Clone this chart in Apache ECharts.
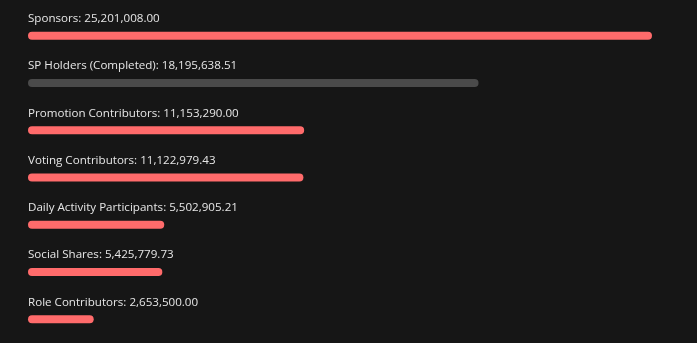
<!DOCTYPE html>
<html>
<head>
<meta charset="utf-8">
<script src="https://cdn.jsdelivr.net/npm/echarts@6/dist/echarts.min.js"></script>
<style>
  html, body { margin: 0; padding: 0; background: #161616; }
  #chart { width: 697px; height: 343px; }
</style>
</head>
<body>
<div id="chart"></div>
<script>
// Contribution totals per group
const categories = [
  'Sponsors',
  'SP Holders (Completed)',
  'Promotion Contributors',
  'Voting Contributors',
  'Daily Activity Participants',
  'Social Shares',
  'Role Contributors'
];
const values = [
  25201008.00,
  18195638.51,
  11153290.00,
  11122979.43,
  5502905.21,
  5425779.73,
  2653500.00
];
// Groups whose allocation is already completed are drawn muted
const completedGroups = ['SP Holders (Completed)'];

const fmt = v => v.toLocaleString('en-US', { minimumFractionDigits: 2, maximumFractionDigits: 2 });

const chart = echarts.init(document.getElementById('chart'), null, { renderer: 'canvas' });

chart.setOption({
  backgroundColor: '#161616',
  animation: false,
  grid: { left: 28, right: 45, top: 12, height: 336 },
  xAxis: {
    type: 'value',
    min: 0,
    max: 'dataMax',
    show: false
  },
  yAxis: {
    type: 'category',
    data: categories,
    inverse: true,
    show: false
  },
  series: [{
    type: 'bar',
    barWidth: 8,
    data: values.map((v, i) => ({
      value: v,
      itemStyle: {
        color: completedGroups.includes(categories[i]) ? '#4a4a4a' : '#ff6b6b',
        borderRadius: 4
      }
    })),
    label: {
      show: true,
      position: [0, -7],
      align: 'left',
      verticalAlign: 'bottom',
      color: '#e6e6e6',
      fontFamily: 'Open Sans',
      fontSize: 11.6,
      formatter: p => categories[p.dataIndex] + ': ' + fmt(p.value)
    }
  }]
});
</script>
</body>
</html>
